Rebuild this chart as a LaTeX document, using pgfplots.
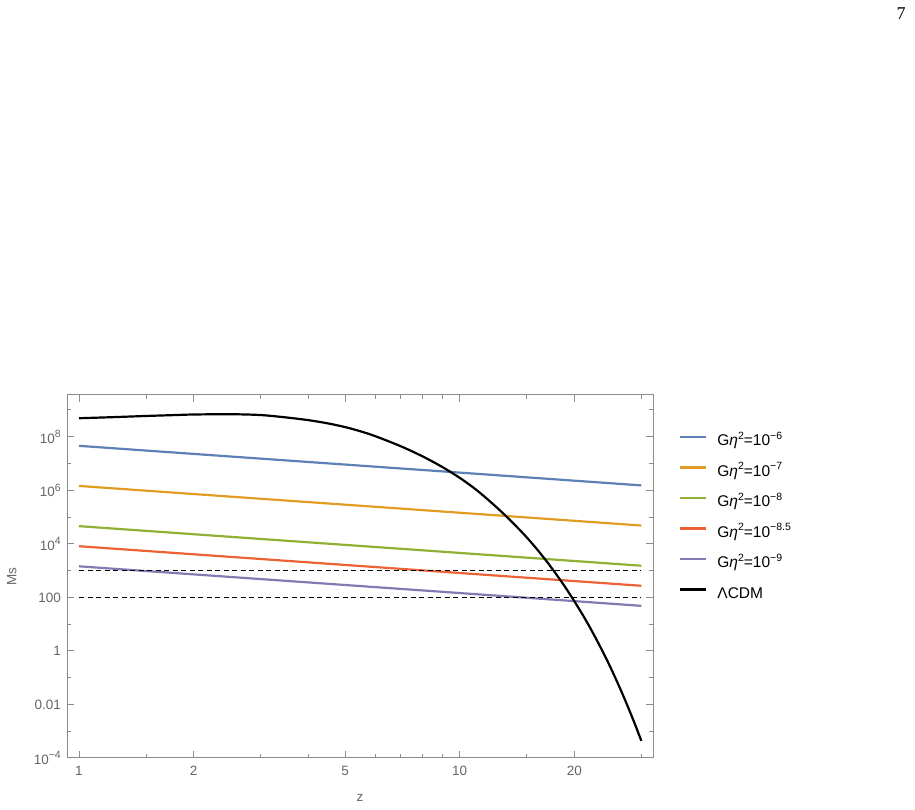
\documentclass[border=0pt]{standalone}
\usepackage{fontspec}
\setmainfont{Liberation Sans}
\newfontfamily\pagefont{Liberation Serif}
\usepackage{pgfplots}
\pgfplotsset{compat=1.18}
\definecolor{mblue}{HTML}{5E81B5}
\definecolor{morange}{HTML}{E19C24}
\definecolor{mgreen}{HTML}{8FB032}
\definecolor{mred}{HTML}{EB6235}
\definecolor{mpurple}{HTML}{8778B3}
\definecolor{frame}{HTML}{8C8C8C}
\definecolor{lbl}{HTML}{666666}
% superscripts a bit larger than \textsuperscript, as in the original
\newcommand{\sx}[1]{\raisebox{0.42em}{\fontsize{10.5}{11}\selectfont #1}}
\newcommand{\geta}[1]{G\textit{η}\sx{2}=10\sx{#1}}

\begin{document}
\begin{tikzpicture}
\path[use as bounding box] (0,0) rectangle (915pt,810pt);
\node[font=\pagefont\fontsize{18}{18}\selectfont, anchor=base] at (901pt,790pt) {7};
\begin{axis}[
  at={(67pt,52pt)}, anchor=south west,
  scale only axis, width=586pt, height=363pt,
  xmode=log, ymode=log,
  xmin=0.93, xmax=32.2, ymin=1e-4, ymax=3.62e9,
  xtick={1,2,5,10,20}, xticklabels={1,2,5,10,20},
  minor xtick={1.5,3,4,6,7,8,9,15,30},
  ytick={1e-4,1e-2,1,1e2,1e4,1e6,1e8},
  yticklabels={10\sx{−4},0.01,1,100,10\sx{4},10\sx{6},10\sx{8}},
  minor ytick={1e-3,1e-1,10,1e3,1e5,1e7,1e9},
  tick align=inside,
  major tick length=7pt, minor tick length=4pt,
  axis line style={color=frame, line width=1pt},
  tick style={color=frame, line width=1pt},
  ticklabel style={font=\fontsize{13.5}{15}\selectfont, text=lbl},
  xticklabel style={inner sep=0pt, yshift=-8pt},
  yticklabel style={inner sep=0pt, xshift=-6pt},
  xlabel={z}, ylabel={Ms},
  label style={font=\fontsize{13.5}{15}\selectfont, text=lbl},
  xlabel style={at={(axis description cs:0.5,-0.11)}, anchor=center},
  ylabel style={at={(axis description cs:-0.094,0.5)}, anchor=center},
  legend style={draw=none, fill=none, at={(axis description cs:1.0444,0.8906)}, anchor=north west,
    font=\fontsize{15.5}{17}\selectfont, inner sep=0pt, row sep=16.5pt,
    nodes={inner sep=0pt, text height=11pt, text depth=3pt},
    /tikz/every odd column/.append style={column sep=10pt}},
  legend cell align=left,
  legend image code/.code={\draw[#1] (0pt,5pt) -- (26pt,5pt);},
  every axis plot/.append style={line width=2.2pt},
  clip=true,
]
\addplot[mblue] coordinates {(1,4.57e7) (3,1.52e7) (10,4.57e6) (30,1.52e6)};
\addlegendentry{\geta{−6}}
\addplot[morange] coordinates {(1,1.45e6) (3,4.82e5) (10,1.45e5) (30,4.82e4)};
\addlegendentry{\geta{−7}}
\addplot[mgreen] coordinates {(1,4.57e4) (3,1.52e4) (10,4.57e3) (30,1.52e3)};
\addlegendentry{\geta{−8}}
\addplot[mred] coordinates {(1,8.13e3) (3,2.71e3) (10,813) (30,271)};
\addlegendentry{\geta{−8.5}}
\addplot[mpurple] coordinates {(1,1445) (3,482) (10,145) (30,48.2)};
\addlegendentry{\geta{−9}}
\addplot[black, smooth] coordinates {
  (1,4.90e8) (1.25,5.43e8) (1.5,5.96e8) (1.75,6.38e8) (2,6.76e8) (2.5,6.92e8)
  (3,6.46e8) (3.5,5.25e8) (4,4.17e8) (4.5,3.16e8) (5,2.29e8) (5.5,1.58e8)
  (6,1.05e8) (7,4.42e7) (8,1.83e7) (9,7.41e6) (10,2.92e6) (11,1.10e6)
  (12,3.89e5) (13,1.38e5) (14,4.90e4) (15,1.74e4) (16,6.03e3) (17,2.04e3)
  (18,676) (19,224) (20,72.4) (21,23.4) (22,7.41) (23,2.29) (24,0.708)
  (25,0.214) (26,0.0631) (27,0.0186) (28,5.37e-3) (29,1.55e-3) (30,4.37e-4)};
\addlegendentry{ΛCDM}
\addplot[black, line width=1pt, dash pattern=on 5pt off 3.5pt, forget plot] coordinates {(1,1000) (30,1000)};
\addplot[black, line width=1pt, dash pattern=on 5pt off 3.5pt, forget plot] coordinates {(1,100) (30,100)};
\end{axis}
\end{tikzpicture}
\end{document}
